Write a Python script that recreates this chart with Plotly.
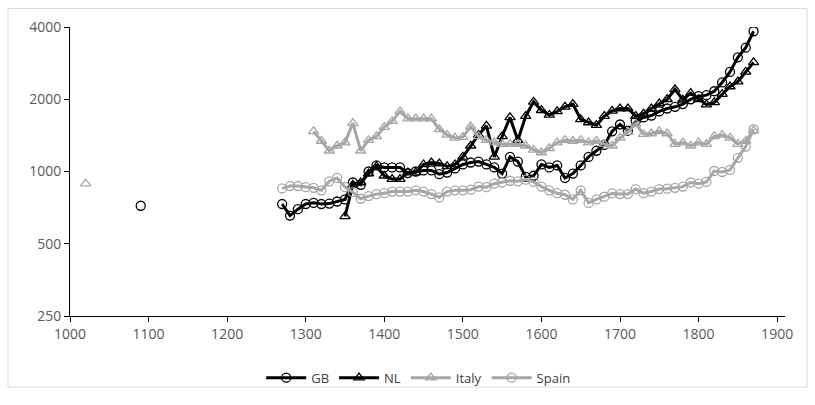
import plotly.graph_objects as go

# ---------------- data ----------------
gb_early_years = [1090]
gb_early_values = [720]
gb_years = list(range(1270, 1880, 10))
gb_values = [732, 655, 697, 732, 740, 732, 735, 750, 765, 900,
             880, 1000, 1060, 1040, 1040, 1040, 985, 1000, 1010, 1010,
             975, 990, 1030, 1070, 1090, 1100, 1070, 1040, 980, 1150,
             1100, 950, 960, 1070, 1040, 1060, 940, 980, 1060, 1150,
             1220, 1290, 1470, 1570, 1480, 1620, 1680, 1710, 1780, 1830,
             1860, 1910, 2000, 2060, 2080, 2160, 2350, 2600, 2990, 3280,
             3840]

nl_years = list(range(1350, 1880, 10))
nl_values = [650, 880, 900, 980, 1050, 960, 930, 930, 990, 990,
             1070, 1090, 1080, 1050, 1070, 1150, 1280, 1420, 1550, 1150,
             1400, 1680, 1350, 1700, 1950, 1800, 1720, 1780, 1860, 1910,
             1650, 1600, 1560, 1700, 1790, 1830, 1830, 1700, 1740, 1830,
             1920, 2000, 2200, 1990, 2120, 2000, 1900, 1940, 2100, 2260,
             2370, 2600, 2850]

italy_early_years = [1020]
italy_early_values = [890]
italy_years = list(range(1310, 1880, 10))
italy_values = [1470, 1340, 1220, 1280, 1320, 1590, 1220, 1350, 1400, 1530,
                1620, 1780, 1660, 1660, 1660, 1660, 1500, 1420, 1380, 1390,
                1540, 1400, 1350, 1320, 1300, 1300, 1300, 1280, 1230, 1200,
                1250, 1320, 1350, 1340, 1350, 1320, 1340, 1300, 1280, 1380,
                1460, 1580, 1430, 1440, 1470, 1440, 1300, 1320, 1280, 1320,
                1300, 1400, 1420, 1380, 1300, 1340, 1480]

spain_years = list(range(1270, 1880, 10))
spain_values = [850, 870, 870, 860, 855, 835, 910, 940, 860, 820,
                770, 790, 805, 812, 825, 825, 825, 835, 825, 805,
                780, 825, 835, 835, 840, 865, 860, 890, 900, 915,
                910, 925, 905, 865, 835, 812, 800, 765, 835, 740,
                765, 785, 810, 805, 805, 845, 812, 825, 845, 848,
                855, 865, 900, 890, 905, 1005, 995, 1015, 1140, 1270,
                1500]

x_ticks = [1000, 1100, 1200, 1300, 1400, 1500, 1600, 1700, 1800, 1900]
y_ticks = [250, 500, 1000, 2000, 4000]


def with_gap(x1, y1, x2, y2):
    return x1 + [None] + x2, y1 + [None] + y2


BLACK = "#000000"
GRAY = "#a6a6a6"
FONT = "Open Sans, DejaVu Sans, sans-serif"

fig = go.Figure()

gx, gy = with_gap(gb_early_years, gb_early_values, gb_years, gb_values)
fig.add_trace(go.Scatter(
    x=gx, y=gy, name="GB", mode="lines+markers", connectgaps=False,
    line=dict(color=BLACK, width=3),
    marker=dict(symbol="circle-open", size=9, color=BLACK, line=dict(width=1.3))))

fig.add_trace(go.Scatter(
    x=nl_years, y=nl_values, name="NL", mode="lines+markers",
    line=dict(color=BLACK, width=3),
    marker=dict(symbol="triangle-up-open", size=9, color=BLACK, line=dict(width=1.3))))

ix, iy = with_gap(italy_early_years, italy_early_values, italy_years, italy_values)
fig.add_trace(go.Scatter(
    x=ix, y=iy, name="Italy", mode="lines+markers", connectgaps=False,
    line=dict(color=GRAY, width=3),
    marker=dict(symbol="triangle-up-open", size=9, color=GRAY, line=dict(width=1.3))))

fig.add_trace(go.Scatter(
    x=spain_years, y=spain_values, name="Spain", mode="lines+markers",
    line=dict(color=GRAY, width=3),
    marker=dict(symbol="circle-open", size=9, color=GRAY, line=dict(width=1.3))))

# chart-area border (paper coords computed from plot-area pixel geometry)
L, R, T, B = 70, 785, 27, 324
W, H = R - L, B - T
fig.add_shape(type="rect", xref="paper", yref="paper",
              x0=(8 - L) / W, x1=(807 - L) / W,
              y0=(B - 397) / H, y1=(B - 8) / H,
              line=dict(color="#d9d9d9", width=1), layer="below")

fig.update_layout(
    width=815, height=405,
    margin=dict(l=L, r=815 - R, t=T, b=405 - B),
    paper_bgcolor="white", plot_bgcolor="white",
    font=dict(family=FONT, size=14, color="#595959"),
    showlegend=True,
    legend=dict(orientation="h", x=0.487, xanchor="center",
                y=(B - 372) / H, yanchor="top",
                bgcolor="rgba(0,0,0,0)",
                font=dict(family=FONT, size=13, color="#404040"),
                itemwidth=40, tracegroupgap=0),
    xaxis=dict(range=[1000, 1910], tickvals=x_ticks, showgrid=False, zeroline=False,
               showline=True, linecolor=BLACK, linewidth=1,
               ticks="outside", ticklen=5, tickcolor=BLACK),
    yaxis=dict(type="log", range=[2.39794, 3.60206], tickvals=y_ticks,
               ticktext=[str(v) for v in y_ticks], showgrid=False, zeroline=False,
               showline=True, linecolor=BLACK, linewidth=1,
               ticks="outside", ticklen=5, tickcolor=BLACK),
)

fig.write_html("out.html", config={"displayModeBar": False},
               post_script="document.body.style.margin='0';")
